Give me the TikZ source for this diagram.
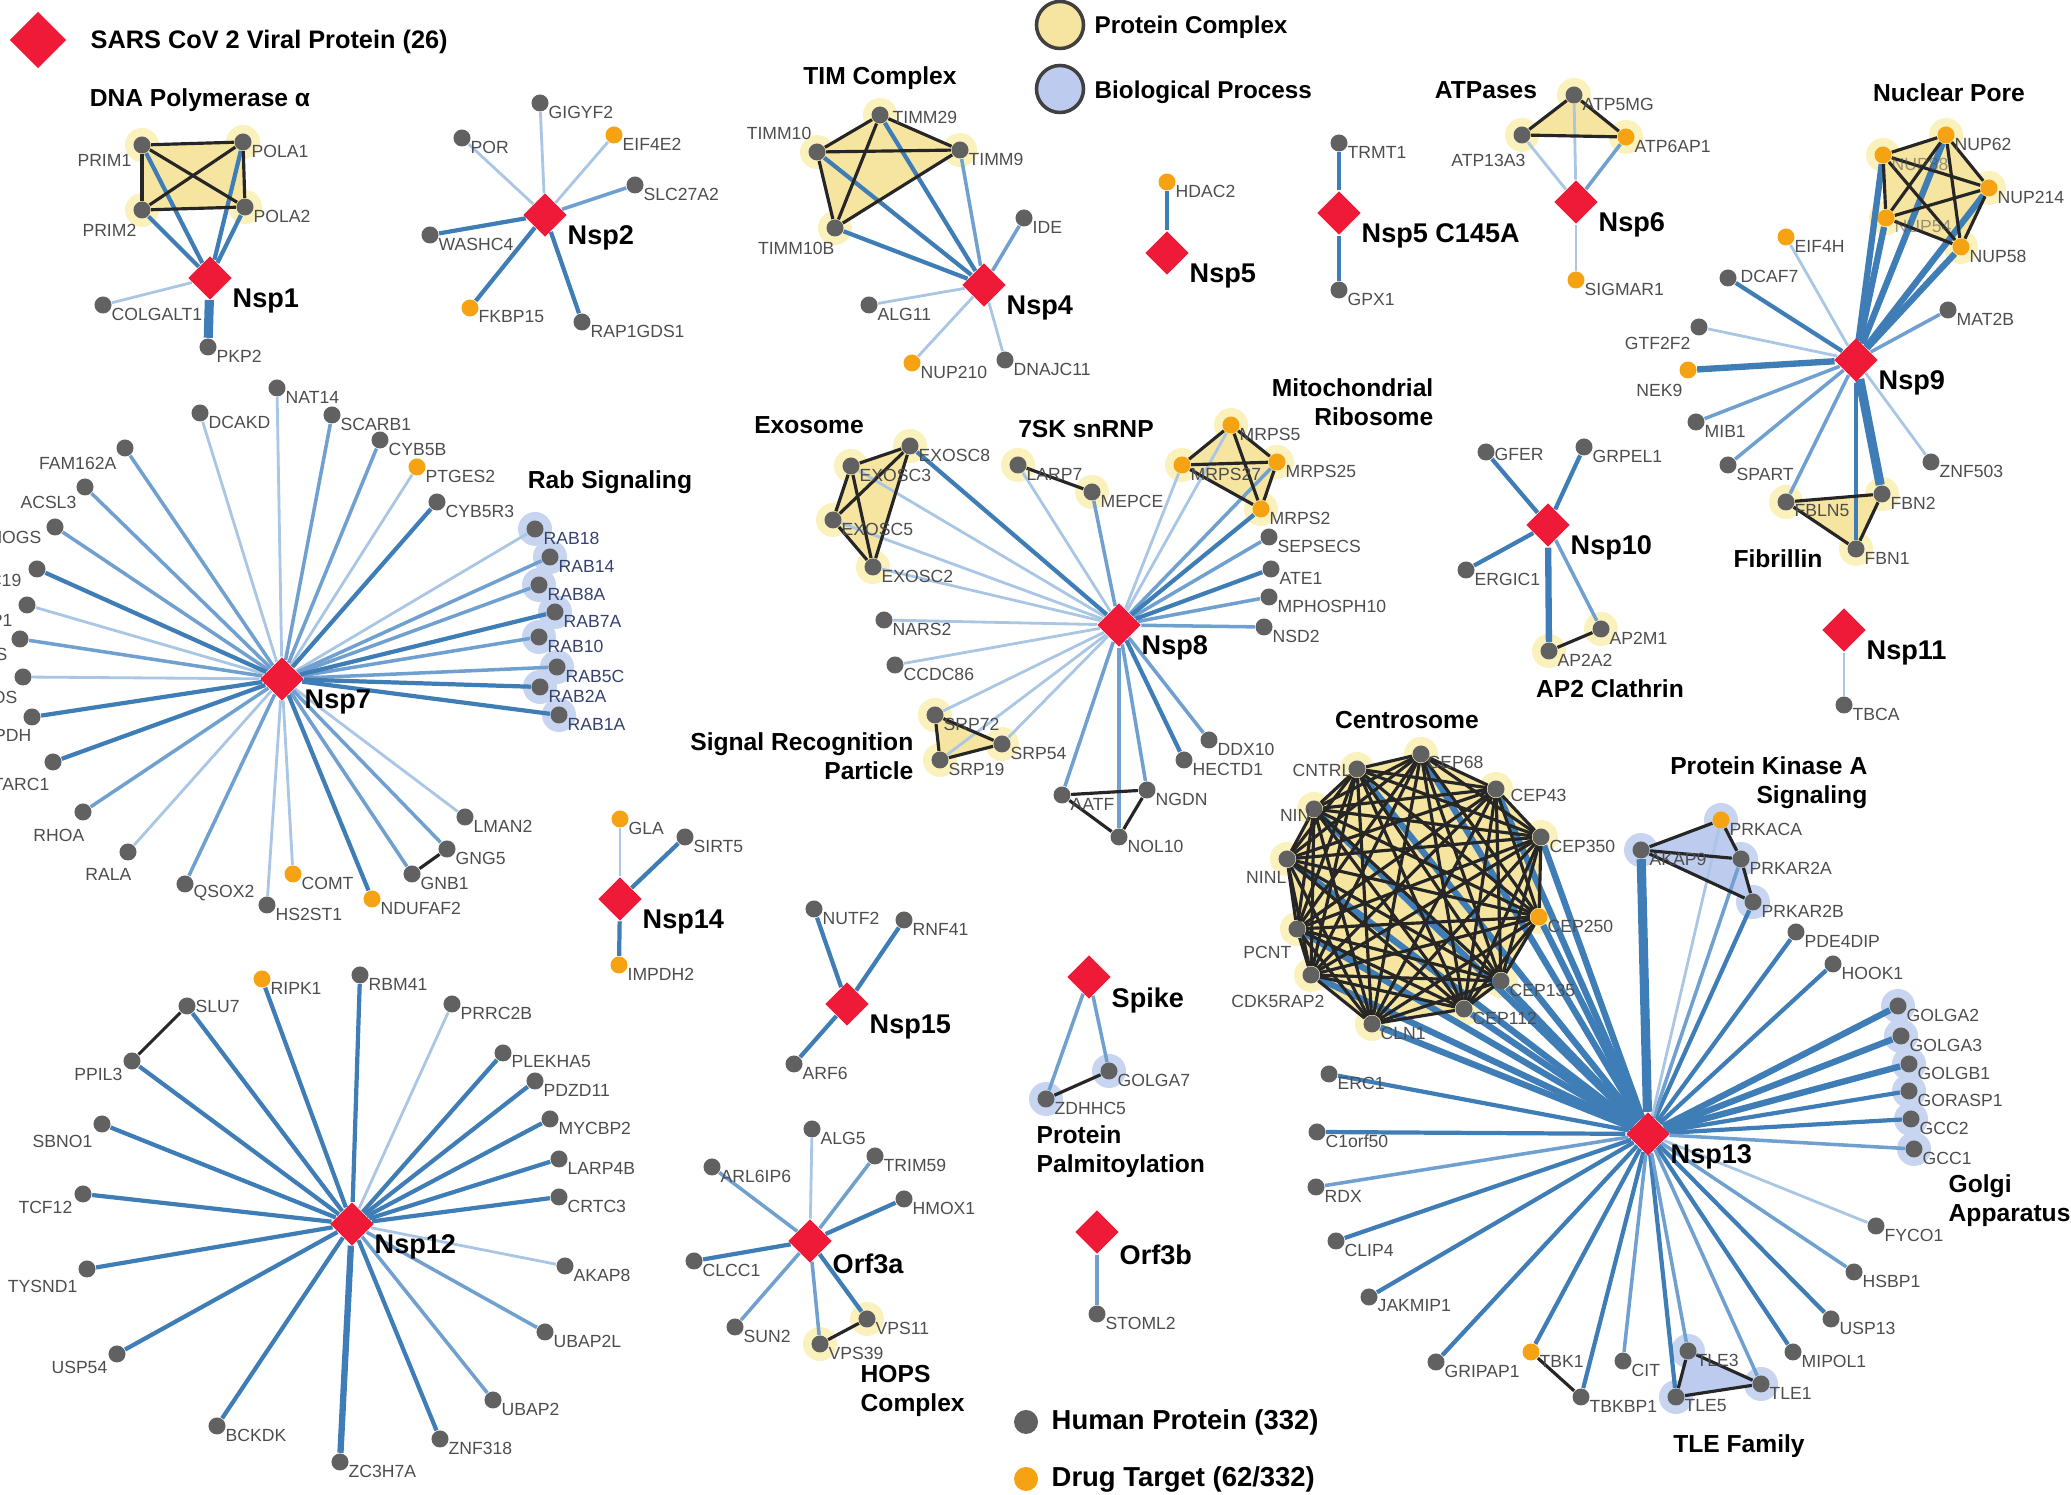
\documentclass[tikz,border=0pt]{standalone}
\usepackage{fontspec}
\setmainfont{Liberation Sans}
\usetikzlibrary{shapes.geometric,positioning}

\definecolor{virred}{HTML}{EE1A37}
\definecolor{protgray}{HTML}{616161}
\definecolor{druggold}{HTML}{F6A313}
\definecolor{edgeA}{HTML}{A9C6E4}
\definecolor{edgeB}{HTML}{6FA0CF}
\definecolor{edgeC}{HTML}{3F7DB6}
\definecolor{haloY}{HTML}{FBF1BD}
\definecolor{hullY}{HTML}{F6E5A0}
\definecolor{haloB}{HTML}{C8D5F1}
\definecolor{hullB}{HTML}{BDCBEE}
\definecolor{labgray}{HTML}{4D4D4D}
\definecolor{rabtext}{HTML}{36426E}

\pgfdeclarelayer{halo}
\pgfdeclarelayer{hull}
\pgfdeclarelayer{edge}
\pgfsetlayers{halo,hull,edge,main}

\tikzset{
  prot/.style={circle,fill=protgray,minimum size=0.17cm,inner sep=0pt},
  drug/.style={circle,fill=druggold,minimum size=0.17cm,inner sep=0pt},
  viral/.style={diamond,fill=virred,minimum size=0.44cm,inner sep=0pt},
  plab/.style={font=\fontsize{5}{6}\selectfont,text=labgray,inner sep=0pt},
  rlab/.style={anchor=west,xshift=0.08cm,yshift=-0.09cm},
  llab/.style={anchor=east,xshift=-0.08cm,yshift=-0.15cm},
  vlab/.style={font=\bfseries\fontsize{7.7}{9}\selectfont,anchor=west,xshift=0.22cm,yshift=-0.23cm,inner sep=0pt},
  grp/.style={font=\bfseries\fontsize{7}{8.3}\selectfont,inner sep=0pt},
  key/.style={font=\bfseries\fontsize{#1}{9}\selectfont,inner sep=0pt,anchor=west},
  eA/.style={draw=edgeA,line width=0.8pt},
  eB/.style={draw=edgeB,line width=1pt},
  eC/.style={draw=edgeC,line width=1.2pt},
  eD/.style={draw=edgeC,line width=1.8pt},
  eE/.style={draw=edgeC,line width=2.6pt},
  cx/.style={draw=black!85,line width=0.9pt},
}

\newcommand{\hp}[4][prot]{\node[#1] (#2) at (#3) {}; \node[plab,#4] at (#2) {#2};}
\newcommand{\vp}[3]{\node[viral] (#1) at (#2) {}; \node[vlab] at (#1) {#3};}
\newcommand{\clique}[1]{%
  \foreach \a [count=\i] in {#1}{%
    \foreach \b [count=\j] in {#1}{%
      \ifnum\j>\i \draw[cx] (\a) -- (\b); \fi}}}

\begin{document}
\begin{tikzpicture}[x=0.01cm,y=-0.01cm]
\useasboundingbox (0,0) rectangle (2071,1495);

% legend
\node[viral,minimum size=0.57cm] (keyV) at (38,40) {};
\node[key=7.2] at (90,42) {SARS CoV 2 Viral Protein (26)};
\node[circle,draw=black!75,line width=1pt,fill=hullY,minimum size=0.47cm,inner sep=0pt] (keyC) at (1060,25) {};
\node[key=6.9] at (1094,27) {Protein Complex};
\node[circle,draw=black!75,line width=1pt,fill=hullB,minimum size=0.47cm,inner sep=0pt] (keyB) at (1060,89) {};
\node[key=6.9] at (1094,92) {Biological Process};
\node[prot,minimum size=0.24cm] (keyH) at (1026,1422) {};
\node[key=7.8] at (1051,1422) {Human Protein (332)};
\node[drug,minimum size=0.24cm] (keyD) at (1026,1479) {};
\node[key=7.8] at (1051,1479) {Drug Target (62/332)};

% Nsp1
\vp{Nsp1}{210,278}{Nsp1}
\hp{PRIM1}{142,145}{anchor=east,xshift=-0.1cm,yshift=-0.15cm}
\hp{POLA1}{243,142}{rlab}
\hp{PRIM2}{142,210}{anchor=east,xshift=-0.05cm,yshift=-0.2cm}
\hp{POLA2}{245,207}{rlab}
\hp{COLGALT1}{103,305}{rlab}
\hp{PKP2}{208,347}{rlab}
\node[grp] (tDNA) at (200,100) {DNA Polymerase α};

% Nsp2
\vp{Nsp2}{545,215}{Nsp2}
\hp{POR}{462,138}{rlab}
\hp{GIGYF2}{540,103}{rlab}
\hp[drug]{EIF4E2}{614,135}{rlab}
\hp{SLC27A2}{635,185}{rlab}
\hp{WASHC4}{430,235}{rlab}
\hp[drug]{FKBP15}{470,308}{rlab}
\hp{RAP1GDS1}{582,322}{rlab}

% Nsp4
\vp{Nsp4}{984,285}{Nsp4}
\hp{TIMM29}{880,115}{anchor=west,xshift=0.12cm,yshift=-0.02cm}
\hp{TIMM10}{817,152}{anchor=east,xshift=-0.05cm,yshift=0.19cm}
\hp{TIMM9}{960,150}{rlab}
\hp{TIMM10B}{835,228}{anchor=east,yshift=-0.2cm}
\hp{IDE}{1024,218}{rlab}
\hp{ALG11}{869,305}{rlab}
\hp[drug]{NUP210}{912,363}{rlab}
\hp{DNAJC11}{1005,360}{rlab}
\node[grp] (tTIM) at (880,78) {TIM Complex};

% Nsp5
\vp{Nsp5}{1167,253}{Nsp5}
\hp[drug]{HDAC2}{1167,182}{rlab}
\vp{Nsp5C}{1339,213}{Nsp5 C145A}
\hp{TRMT1}{1339,143}{rlab}
\hp{GPX1}{1339,290}{rlab}

% Nsp6
\vp{Nsp6}{1576,202}{Nsp6}
\hp{ATP13A3}{1522,135}{anchor=east,xshift=0.04cm,yshift=-0.25cm}
\hp{ATP5MG}{1574,95}{rlab}
\hp[drug]{ATP6AP1}{1626,137}{rlab}
\hp[drug]{SIGMAR1}{1576,280}{rlab}
\node[grp] (tATP) at (1486,90) {ATPases};

% Nsp9
\vp{Nsp9}{1856,360}{Nsp9}
\hp[drug]{NUP62}{1946,135}{rlab}
\hp[drug]{NUP88}{1883,155}{rlab,text opacity=0.55}
\hp[drug]{NUP214}{1989,188}{rlab}
\hp[drug]{NUP54}{1886,218}{rlab,text opacity=0.55}
\hp[drug]{NUP58}{1961,247}{rlab}
\hp[drug]{EIF4H}{1786,237}{rlab}
\hp{DCAF7}{1728,278}{anchor=west,xshift=0.12cm,yshift=0.02cm}
\hp{MAT2B}{1948,310}{rlab}
\hp{GTF2F2}{1699,327}{anchor=east,xshift=-0.08cm,yshift=-0.16cm}
\hp[drug]{NEK9}{1688,370}{anchor=east,xshift=-0.05cm,yshift=-0.2cm}
\hp{MIB1}{1696,422}{rlab}
\hp{SPART}{1728,465}{rlab}
\hp{ZNF503}{1931,462}{rlab}
\hp{FBLN5}{1786,502}{rlab}
\hp{FBN2}{1882,494}{rlab}
\hp{FBN1}{1856,549}{rlab}
\node[grp] (tNPC) at (1949,93) {Nuclear Pore};
\node[grp] (tFBN) at (1778,559) {Fibrillin};

% Nsp10
\vp{Nsp10}{1548,525}{Nsp10}
\hp{GFER}{1486,452}{anchor=west,xshift=0.08cm,yshift=-0.02cm}
\hp{GRPEL1}{1584,447}{rlab}
\hp{ERGIC1}{1466,570}{rlab}
\hp{AP2M1}{1601,629}{rlab}
\hp{AP2A2}{1549,651}{rlab}
\node[grp] (tAP2) at (1610,689) {AP2 Clathrin};

% Nsp11
\vp{Nsp11}{1844,630}{Nsp11}
\hp{TBCA}{1844,705}{rlab}

% Nsp7
\vp{Nsp7}{282,679}{Nsp7}
\hp{NAT14}{277,388}{rlab}
\hp{DCAKD}{200,413}{rlab}
\hp{SCARB1}{332,415}{rlab}
\hp{CYB5B}{380,440}{rlab}
\hp[drug]{PTGES2}{417,467}{rlab}
\hp{CYB5R3}{437,502}{rlab}
\hp{FAM162A}{125,448}{llab}
\hp{ACSL3}{85,487}{llab}
\hp{MOGS}{55,527}{anchor=east,xshift=-0.13cm,yshift=-0.1cm}
\node[prot] (X19) at (37,569) {};   \node[plab,anchor=east] at (22,580) {C19};
\node[prot] (XP1) at (27,605) {};   \node[plab,anchor=east] at (13,620) {P1};
\node[prot] (XS) at (20,639) {};    \node[plab,anchor=east] at (8,654) {S};
\node[prot] (XOS) at (23,677) {};   \node[plab,anchor=east] at (18,697) {OS};
\node[prot] (XPDH) at (32,717) {};  \node[plab,anchor=east] at (32,735) {PDH};
\node[prot] (MTARC1) at (53,762) {}; \node[plab,anchor=east] at (50,784) {MTARC1};
\hp{RHOA}{83,812}{anchor=east,xshift=0.02cm,yshift=-0.23cm}
\hp{RALA}{128,852}{anchor=east,xshift=0.04cm,yshift=-0.22cm}
\hp{QSOX2}{185,884}{rlab}
\hp{HS2ST1}{267,905}{rlab}
\hp[drug]{COMT}{293,874}{rlab}
\hp[drug]{NDUFAF2}{372,899}{rlab}
\hp{GNB1}{412,874}{rlab}
\hp{GNG5}{447,849}{rlab}
\hp{LMAN2}{465,817}{rlab}
\hp{RAB18}{535,529}{rlab,text=rabtext}
\hp{RAB14}{550,557}{rlab,text=rabtext}
\hp{RAB8A}{539,585}{rlab,text=rabtext}
\hp{RAB7A}{555,612}{rlab,text=rabtext}
\hp{RAB10}{539,637}{rlab,text=rabtext}
\hp{RAB5C}{557,667}{rlab,text=rabtext}
\hp{RAB2A}{540,687}{rlab,text=rabtext}
\hp{RAB1A}{559,715}{rlab,text=rabtext}
\node[grp] (tRAB) at (610,482) {Rab Signaling};

% Nsp8
\vp{Nsp8}{1119,625}{Nsp8}
\hp{EXOSC8}{910,446}{rlab}
\hp{EXOSC3}{851,466}{rlab}
\hp{EXOSC5}{833,520}{rlab}
\hp{EXOSC2}{873,567}{rlab}
\hp{LARP7}{1018,465}{rlab}
\hp{MEPCE}{1092,492}{rlab}
\hp[drug]{MRPS5}{1231,425}{rlab}
\hp[drug]{MRPS27}{1182,465}{rlab}
\hp[drug]{MRPS25}{1277,462}{rlab}
\hp[drug]{MRPS2}{1261,509}{rlab}
\hp{SEPSECS}{1269,537}{rlab}
\hp{ATE1}{1271,569}{rlab}
\hp{MPHOSPH10}{1269,597}{rlab}
\hp{NSD2}{1264,627}{rlab}
\hp{DDX10}{1209,740}{rlab}
\hp{HECTD1}{1184,760}{rlab}
\hp{NGDN}{1147,790}{rlab}
\hp{NOL10}{1119,837}{rlab}
\hp{AATF}{1062,795}{rlab}
\hp{SRP54}{1002,744}{rlab}
\hp{SRP72}{935,715}{rlab}
\hp{SRP19}{940,760}{rlab}
\hp{NARS2}{884,620}{rlab}
\hp{CCDC86}{895,665}{rlab}
\node[grp] (tEXO) at (809,425) {Exosome};
\node[grp] (t7SK) at (1086,429) {7SK snRNP};
\node[grp,align=right,anchor=east] (tMRP) at (1434,402) {Mitochondrial\\Ribosome};
\node[grp,align=right,anchor=east] (tSRP) at (914,756) {Signal Recognition\\Particle};

% Nsp12
\vp{Nsp12}{352,1224}{Nsp12}
\hp[drug]{RIPK1}{262,979}{rlab}
\hp{RBM41}{360,975}{rlab}
\hp{SLU7}{187,1006}{anchor=west,xshift=0.08cm}
\hp{PPIL3}{132,1061}{anchor=east,xshift=-0.09cm,yshift=-0.13cm}
\hp{SBNO1}{102,1124}{anchor=east,xshift=-0.09cm,yshift=-0.17cm}
\hp{TCF12}{83,1194}{anchor=east,xshift=-0.1cm,yshift=-0.13cm}
\hp{TYSND1}{87,1269}{anchor=east,xshift=-0.09cm,yshift=-0.17cm}
\hp{USP54}{117,1354}{anchor=east,xshift=-0.09cm,yshift=-0.13cm}
\hp{BCKDK}{217,1426}{rlab}
\hp{ZC3H7A}{340,1462}{rlab}
\hp{ZNF318}{440,1439}{rlab}
\hp{UBAP2}{493,1400}{rlab}
\hp{UBAP2L}{545,1332}{rlab}
\hp{AKAP8}{565,1266}{rlab}
\hp{CRTC3}{559,1197}{rlab}
\hp{LARP4B}{559,1159}{rlab}
\hp{MYCBP2}{550,1119}{rlab}
\hp{PDZD11}{535,1081}{rlab}
\hp{PLEKHA5}{503,1053}{rlab}
\hp{PRRC2B}{452,1004}{rlab}

% Nsp14, Nsp15
\vp{Nsp14}{620,899}{Nsp14}
\hp[drug]{GLA}{620,819}{rlab}
\hp{SIRT5}{685,837}{rlab}
\hp[drug]{IMPDH2}{619,965}{rlab}
\vp{Nsp15}{847,1004}{Nsp15}
\hp{NUTF2}{814,909}{rlab}
\hp{RNF41}{904,920}{rlab}
\hp{ARF6}{794,1064}{rlab}

% Orf3a
\vp{Orf3a}{810,1241}{Orf3a}
\hp{ALG5}{812,1129}{rlab}
\hp{TRIM59}{875,1156}{rlab}
\hp{HMOX1}{904,1199}{rlab}
\hp{ARL6IP6}{712,1167}{rlab}
\hp{CLCC1}{694,1261}{rlab}
\hp{SUN2}{735,1327}{rlab}
\hp{VPS39}{820,1344}{rlab}
\hp{VPS11}{867,1319}{rlab}
\node[grp,align=left,anchor=west] (tHOPS) at (860,1391) {HOPS\\Complex};

% Spike, Orf3b
\vp{Spike}{1089,977}{Spike}
\hp{GOLGA7}{1109,1071}{rlab}
\hp{ZDHHC5}{1046,1099}{rlab}
\node[grp,align=left,anchor=west] (tPALM) at (1036,1152) {Protein\\Palmitoylation};
\vp{Orf3b}{1097,1232}{Orf3b}
\hp{STOML2}{1097,1314}{rlab}

% Nsp13
\vp{Nsp13}{1648,1134}{Nsp13}
\hp{CEP68}{1421,754}{anchor=west,xshift=0.06cm,yshift=-0.08cm}
\hp{CEP43}{1496,789}{anchor=west,xshift=0.14cm,yshift=-0.06cm}
\hp{CEP350}{1541,837}{rlab}
\hp[drug]{CEP250}{1539,917}{rlab}
\hp{CEP135}{1501,981}{rlab}
\hp{CEP112}{1464,1009}{rlab}
\hp{CLN1}{1372,1024}{rlab}
\hp{CDK5RAP2}{1311,975}{anchor=east,xshift=0.14cm,yshift=-0.26cm}
\hp{PCNT}{1297,929}{anchor=east,xshift=-0.05cm,yshift=-0.23cm}
\hp{NINL}{1287,859}{anchor=east,yshift=-0.18cm}
\hp{NIN}{1314,809}{anchor=east,xshift=-0.03cm,yshift=-0.06cm}
\hp{CNTRL}{1357,769}{anchor=east,xshift=-0.05cm,yshift=-0.01cm}
\hp{AKAP9}{1641,850}{rlab}
\hp[drug]{PRKACA}{1721,820}{rlab}
\hp{PRKAR2A}{1741,859}{rlab}
\hp{PRKAR2B}{1753,902}{rlab}
\hp{PDE4DIP}{1796,932}{rlab}
\hp{HOOK1}{1833,964}{rlab}
\hp{GOLGA2}{1898,1006}{rlab}
\hp{GOLGA3}{1901,1036}{rlab}
\hp{GOLGB1}{1909,1064}{rlab}
\hp{GORASP1}{1909,1091}{rlab}
\hp{GCC2}{1911,1119}{rlab}
\hp{GCC1}{1914,1149}{rlab}
\hp{FYCO1}{1876,1226}{rlab}
\hp{HSBP1}{1854,1272}{rlab}
\hp{USP13}{1831,1319}{rlab}
\hp{MIPOL1}{1793,1352}{rlab}
\hp{TLE1}{1761,1384}{rlab}
\hp{TLE3}{1688,1351}{rlab}
\hp{TLE5}{1676,1397}{rlab}
\hp{CIT}{1623,1361}{rlab}
\hp{TBKBP1}{1581,1397}{rlab}
\hp[drug]{TBK1}{1531,1352}{rlab}
\hp{GRIPAP1}{1436,1362}{rlab}
\hp{JAKMIP1}{1369,1297}{rlab}
\hp{CLIP4}{1336,1241}{rlab}
\hp{RDX}{1316,1187}{rlab}
\hp{C1orf50}{1317,1132}{rlab}
\hp{ERC1}{1329,1074}{rlab}
\node[grp] (tCEN) at (1407,720) {Centrosome};
\node[grp,align=right,anchor=east] (tPKA) at (1868,783) {Protein Kinase A\\Signaling};
\node[grp,align=left,anchor=west] (tGOL) at (1948,1201) {Golgi\\Apparatus};
\node[grp] (tTLE) at (1739,1446) {TLE Family};

% halos
\begin{pgfonlayer}{halo}
\foreach \p in {PRIM1,POLA1,PRIM2,POLA2,TIMM29,TIMM10,TIMM9,TIMM10B,ATP13A3,ATP5MG,ATP6AP1,
  NUP62,NUP88,NUP214,NUP54,NUP58,FBLN5,FBN2,FBN1,AP2M1,AP2A2,EXOSC8,EXOSC3,EXOSC5,EXOSC2,
  LARP7,MEPCE,MRPS5,MRPS27,MRPS25,MRPS2,SRP54,SRP72,SRP19,VPS39,VPS11,
  CEP68,CEP43,CEP350,CEP250,CEP135,CEP112,CLN1,CDK5RAP2,PCNT,NINL,NIN,CNTRL}
  \fill[haloY] (\p.center) circle (0.17cm);
\foreach \p in {RAB18,RAB14,RAB8A,RAB7A,RAB10,RAB5C,RAB2A,RAB1A,GOLGA7,ZDHHC5,
  AKAP9,PRKACA,PRKAR2A,PRKAR2B,TLE1,TLE3,TLE5,GOLGA2,GOLGA3,GOLGB1,GORASP1,GCC2,GCC1}
  \fill[haloB] (\p.center) circle (0.17cm);
\end{pgfonlayer}

% complex areas
\begin{pgfonlayer}{hull}
\fill[hullY] (PRIM1.center) -- (POLA1.center) -- (POLA2.center) -- (PRIM2.center) -- cycle;
\fill[hullY] (TIMM10.center) -- (TIMM29.center) -- (TIMM9.center) -- (TIMM10B.center) -- cycle;
\fill[hullY] (ATP13A3.center) -- (ATP5MG.center) -- (ATP6AP1.center) -- cycle;
\fill[hullY] (NUP88.center) -- (NUP62.center) -- (NUP214.center) -- (NUP58.center) -- (NUP54.center) -- cycle;
\fill[hullY] (FBLN5.center) -- (FBN2.center) -- (FBN1.center) -- cycle;
\fill[hullY] (EXOSC3.center) -- (EXOSC8.center) -- (EXOSC2.center) -- (EXOSC5.center) -- cycle;
\fill[hullY] (MRPS27.center) -- (MRPS5.center) -- (MRPS25.center) -- (MRPS2.center) -- cycle;
\fill[hullY] (SRP72.center) -- (SRP54.center) -- (SRP19.center) -- cycle;
\fill[hullY] (CEP68.center) -- (CEP43.center) -- (CEP350.center) -- (CEP250.center) -- (CEP135.center)
  -- (CEP112.center) -- (CLN1.center) -- (CDK5RAP2.center) -- (PCNT.center) -- (NINL.center)
  -- (NIN.center) -- (CNTRL.center) -- cycle;
\fill[hullB] (AKAP9.center) -- (PRKACA.center) -- (PRKAR2A.center) -- (PRKAR2B.center) -- cycle;
\fill[hullB] (TLE3.center) -- (TLE1.center) -- (TLE5.center) -- cycle;
\end{pgfonlayer}

% interactions
\begin{pgfonlayer}{edge}
\foreach \p in {PRIM1,PRIM2,POLA1,POLA2} \draw[eC] (Nsp1) -- (\p);
\draw[eA] (Nsp1) -- (COLGALT1);
\draw[eE] (Nsp1) -- (PKP2);
\foreach \p in {POR,GIGYF2,EIF4E2} \draw[eA] (Nsp2) -- (\p);
\draw[eB] (Nsp2) -- (SLC27A2);
\foreach \p in {WASHC4,FKBP15,RAP1GDS1} \draw[eC] (Nsp2) -- (\p);
\foreach \p in {TIMM29,TIMM10,TIMM10B} \draw[eC] (Nsp4) -- (\p);
\foreach \p in {TIMM9,IDE} \draw[eB] (Nsp4) -- (\p);
\foreach \p in {ALG11,NUP210,DNAJC11} \draw[eA] (Nsp4) -- (\p);
\draw[eC] (Nsp5) -- (HDAC2);
\draw[eC] (Nsp5C) -- (TRMT1);
\draw[eC] (Nsp5C) -- (GPX1);
\foreach \p in {ATP13A3,ATP5MG,SIGMAR1} \draw[eA] (Nsp6) -- (\p);
\draw[eB] (Nsp6) -- (ATP6AP1);
\foreach \p in {NUP62,NUP88,NUP214,NUP54,NUP58,NEK9} \draw[eD] (Nsp9) -- (\p);
\foreach \p in {EIF4H,GTF2F2,ZNF503} \draw[eA] (Nsp9) -- (\p);
\foreach \p in {MAT2B,MIB1,SPART,FBLN5} \draw[eB] (Nsp9) -- (\p);
\foreach \p in {DCAF7,FBN1} \draw[eC] (Nsp9) -- (\p);
\draw[eE] (Nsp9) -- (FBN2);
\foreach \p in {GFER,GRPEL1,ERGIC1} \draw[eC] (Nsp10) -- (\p);
\draw[eB] (Nsp10) -- (AP2M1);
\draw[eD] (Nsp10) -- (AP2A2);
\draw[eA] (Nsp11) -- (TBCA);
\foreach \p in {NAT14,DCAKD,PTGES2,XP1,XOS,RALA,HS2ST1,COMT,LMAN2,RAB18} \draw[eA] (Nsp7) -- (\p);
\foreach \p in {SCARB1,CYB5B,FAM162A,ACSL3,MOGS,XS,RHOA,QSOX2,GNB1,GNG5,RAB14,RAB8A,RAB10,RAB5C}
  \draw[eB] (Nsp7) -- (\p);
\foreach \p in {CYB5R3,X19,XPDH,MTARC1,NDUFAF2,RAB7A,RAB2A,RAB1A} \draw[eC] (Nsp7) -- (\p);
\foreach \p in {EXOSC3,EXOSC5,EXOSC2,LARP7,MRPS5,MRPS27,SRP54,SRP72,SRP19,NARS2,CCDC86}
  \draw[eA] (Nsp8) -- (\p);
\foreach \p in {MEPCE,MRPS25,SEPSECS,MPHOSPH10,NSD2,DDX10,NGDN,NOL10,AATF} \draw[eB] (Nsp8) -- (\p);
\foreach \p in {EXOSC8,MRPS2,ATE1,HECTD1} \draw[eC] (Nsp8) -- (\p);
\foreach \p in {RIPK1,RBM41,SLU7,PPIL3,SBNO1,TCF12,TYSND1,USP54,BCKDK,ZNF318,PLEKHA5,PDZD11,
  MYCBP2,LARP4B,CRTC3} \draw[eC] (Nsp12) -- (\p);
\draw[eD] (Nsp12) -- (ZC3H7A);
\foreach \p in {UBAP2,UBAP2L} \draw[eB] (Nsp12) -- (\p);
\foreach \p in {AKAP8,PRRC2B} \draw[eA] (Nsp12) -- (\p);
\draw[eA] (Nsp14) -- (GLA);
\draw[eC] (Nsp14) -- (SIRT5);
\draw[eC] (Nsp14) -- (IMPDH2);
\foreach \p in {NUTF2,RNF41,ARF6} \draw[eC] (Nsp15) -- (\p);
\draw[eA] (Orf3a) -- (ALG5);
\foreach \p in {TRIM59,ARL6IP6,SUN2,VPS39} \draw[eB] (Orf3a) -- (\p);
\foreach \p in {HMOX1,CLCC1,VPS11} \draw[eC] (Orf3a) -- (\p);
\draw[eB] (Spike) -- (GOLGA7);
\draw[eB] (Spike) -- (ZDHHC5);
\draw[eB] (Orf3b) -- (STOML2);
\foreach \p in {CEP68,CEP43,CEP350,CEP250,CEP135,CEP112,CLN1,CDK5RAP2,PCNT,NINL,NIN,CNTRL,
  GOLGA2,GOLGA3,GOLGB1} \draw[eD] (Nsp13) -- (\p);
\draw[eE] (Nsp13) -- (AKAP9);
\foreach \p in {PRKAR2B,PDE4DIP,HOOK1,GORASP1,GCC2,USP13,MIPOL1,TLE5,TBKBP1,TBK1,GRIPAP1,
  JAKMIP1,CLIP4,C1orf50,ERC1} \draw[eC] (Nsp13) -- (\p);
\foreach \p in {PRKAR2A,GCC1,HSBP1,TLE1,TLE3,CIT,RDX} \draw[eB] (Nsp13) -- (\p);
\foreach \p in {PRKACA,FYCO1} \draw[eA] (Nsp13) -- (\p);
% complex members
\clique{PRIM1,POLA1,POLA2,PRIM2}
\clique{TIMM10,TIMM29,TIMM9,TIMM10B}
\clique{ATP13A3,ATP5MG,ATP6AP1}
\clique{NUP88,NUP62,NUP214,NUP58,NUP54}
\clique{FBLN5,FBN2,FBN1}
\clique{EXOSC3,EXOSC8,EXOSC2,EXOSC5}
\clique{MRPS27,MRPS5,MRPS25,MRPS2}
\clique{SRP72,SRP54,SRP19}
\clique{AATF,NGDN,NOL10}
\clique{CEP68,CEP43,CEP350,CEP250,CEP135,CEP112,CLN1,CDK5RAP2,PCNT,NINL,NIN,CNTRL}
\clique{TLE3,TLE1,TLE5}
\draw[cx] (LARP7) -- (MEPCE);
\draw[cx] (AP2A2) -- (AP2M1);
\draw[cx] (GNB1) -- (GNG5);
\draw[cx] (SLU7) -- (PPIL3);
\draw[cx] (VPS39) -- (VPS11);
\draw[cx] (GOLGA7) -- (ZDHHC5);
\draw[cx] (TBK1) -- (TBKBP1);
\draw[cx] (AKAP9) -- (PRKACA);
\draw[cx] (AKAP9) -- (PRKAR2A);
\draw[cx] (AKAP9) -- (PRKAR2B);
\draw[cx] (PRKACA) -- (PRKAR2A);
\draw[cx] (PRKAR2A) -- (PRKAR2B);
\end{pgfonlayer}
\end{tikzpicture}
\end{document}
